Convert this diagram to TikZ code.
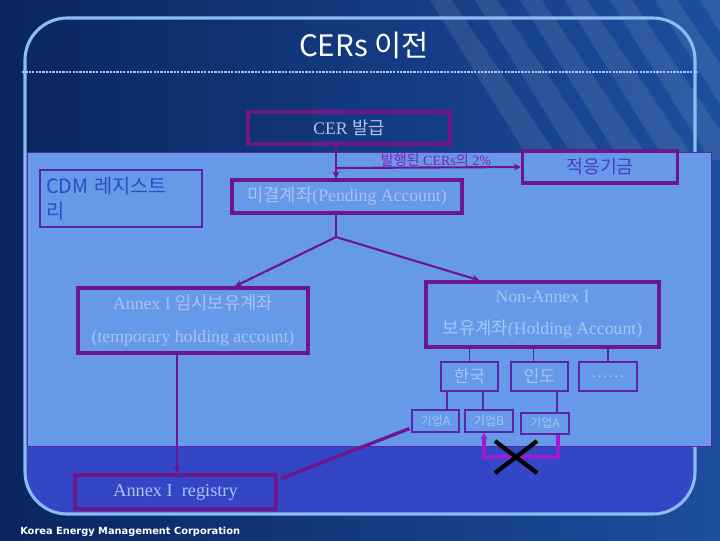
\documentclass[tikz,border=0pt]{standalone}
\usepackage{fontspec}
\setmainfont{Liberation Serif}
\newfontfamily\kr{Noto Sans CJK KR}
\newfontfamily\dv{DejaVu Sans}
\usetikzlibrary{calc,arrows.meta}
\definecolor{navy}{HTML}{0A2560}
\definecolor{navyR}{HTML}{1D4E9E}
\definecolor{framec}{HTML}{8CBCF4}
\definecolor{panel}{HTML}{6699E8}
\definecolor{band}{HTML}{3346C6}
\definecolor{plum}{HTML}{6E168C}
\definecolor{brightpurple}{HTML}{A01CD4}
\definecolor{txt}{HTML}{A8C4F2}
\definecolor{cdmtxt}{HTML}{2D4CC4}
\definecolor{fundtxt}{HTML}{4A3CC4}
\definecolor{pctc}{HTML}{8A1CB8}
\definecolor{panelline}{HTML}{5A24A8}
\newcommand\pxl{0.025cm}

\begin{document}
\begin{tikzpicture}[x=0.025cm,y=-0.025cm,
  sz/.style 2 args={minimum width=#1*\pxl,minimum height=#2*\pxl},
  fat/.style={draw=plum,line width=2.4pt,text=txt,font=\fontsize{12.6}{23}\selectfont,align=center,inner sep=0pt},
  slim/.style={draw=panelline,line width=.8pt,text=txt,inner sep=0pt,font=\kr\fontsize{12}{14}\selectfont},
  small/.style={slim,font=\kr\fontsize{8.5}{10}\selectfont},
  link/.style={draw=plum,line width=1.5pt},
  twig/.style={draw=panelline,line width=.8pt},
  arw/.style={-{Stealth[length=5pt,width=5pt]}}]
\useasboundingbox (0,0) rectangle (720,540);
\shade[left color=navy,right color=navyR] (0,0) rectangle (720,540);
\begin{scope}
\clip (380,0) rectangle (720,160);
\foreach \k in {0,...,6} \fill[white,opacity=.09] (430+45*\k,0) -- (452+45*\k,0) -- (560+45*\k,160) -- (530+45*\k,160) -- cycle;
\end{scope}
\begin{scope}
\clip[rounded corners=30] (25,18) rectangle (695,514);
\fill[band] (25,446) rectangle (695,514);
\end{scope}
\draw[framec,line width=2.2pt,rounded corners=30] (25,18) rectangle (695,514);
\draw[framec!80!white,line width=2pt,dash pattern=on 1.6pt off .8pt] (22,72) -- (698,72);
\node[text=white,font=\kr\fontsize{21}{24}\selectfont] (title) at (364,45) {CERs 이전};
\fill[panel] (27,152) rectangle (711,446); \draw[panelline,line width=.7pt] (27,152) rectangle (711,446);

\node[fat,sz={202}{32}] (cer) at (349,128) {CER {\kr 발급}};
\node[fat,sz={155}{32},text=fundtxt,font=\kr\fontsize{13}{15}\selectfont] (fund) at (600,167) {적응기금};
\node[fat,sz={230}{33}] (pend) at (347,196.5) {{\kr 미결계좌}(Pending Account)};
\node[slim,sz={162}{57},text=cdmtxt,font=\kr\fontsize{14}{18}\selectfont,align=left,text width=150*\pxl] (cdm) at (121,198.5) {CDM 레지스트\\리};
\node[fat,sz={230}{65}] (temp) at (193,320.5) {Annex I {\kr 임시보유계좌}\\(temporary holding account)};
\node[fat,sz={233}{65}] (nona) at (542.5,314.5) {Non-Annex I\\{\kr 보유계좌}(Holding Account)};
\node[slim,sz={57}{29}] (kor) at (469.5,376.5) {한국};
\node[slim,sz={57}{29}] (ind) at (539.5,376.5) {인도};
\node[slim,sz={58}{29},font=\fontsize{12}{14}\selectfont] (etc) at (608,376.5) {……};
\node[small,sz={47}{22}] (koA) at (435.5,421) {기업A};
\node[small,sz={48}{22}] (koB) at (489,421) {기업B};
\node[small,sz={48}{21}] (inA) at (545,423.5) {기업A};
\node[fat,sz={201}{34},font=\fontsize{13}{15}\selectfont] (reg) at (175.5,492) {Annex I\ \ registry};

\coordinate (s1) at (336,168); \coordinate (s2) at (336,237);
\draw[link,arw] (cer.south -| s1) -- (pend.north -| s1); \draw[link,arw] (s1) -- (fund.west);
\node[anchor=south,inner sep=1pt,text=pctc,font=\fontsize{10}{12}\selectfont] (pct) at (436,168) {{\kr 발행된} CERs{\kr 의} 2\%};
\draw[link] (pend.south -| s2) -- (s2);
\draw[link,arw] (s2) -- ($(temp.north)+(42,0)$); \draw[link,arw] (s2) -- ($(nona.north west)+(55,0)$);
\draw[twig] (nona.south -| kor.north) -- (kor.north); \draw[twig] (nona.south -| etc.north) -- (etc.north);
\draw[twig] ($(ind.north)+(-6,0)$) coordinate (i0) -- (i0 |- nona.south);
\draw[twig] ($(kor.south)+(-22.5,0)$) coordinate (k1) -- (k1 |- koA.north);
\draw[twig] ($(kor.south)+(13.5,0)$) coordinate (k2) -- (k2 |- koB.north);
\draw[twig] ($(ind.south)+(17.5,0)$) coordinate (i1) -- (i1 |- inA.north);
\draw[link,arw] ($(temp.south)+(-16,0)$) coordinate (t1) -- (t1 |- reg.north);
\draw[link,line width=2.4pt,arw] ($(koA.south west)+(-2,-4)$) -- ($(reg.east)+(2,-13)$);
\coordinate (b2) at (484,457);
\draw[brightpurple,line width=2.2pt,arw] ($(inA.south)+(13,0)$) |- (b2) -- (b2 |- koB.south);
\coordinate (cross) at (516,457);
\draw[black,line width=3pt] ($(cross)+(-21,-16)$) -- ($(cross)+(21,16)$) ($(cross)+(21,-16)$) -- ($(cross)+(-21,16)$);
\node[anchor=west,inner sep=0pt,text=white,font=\dv\bfseries\fontsize{7}{8}\selectfont] (corp) at (20,532) {Korea Energy Management Corporation};
\end{tikzpicture}
\end{document}
